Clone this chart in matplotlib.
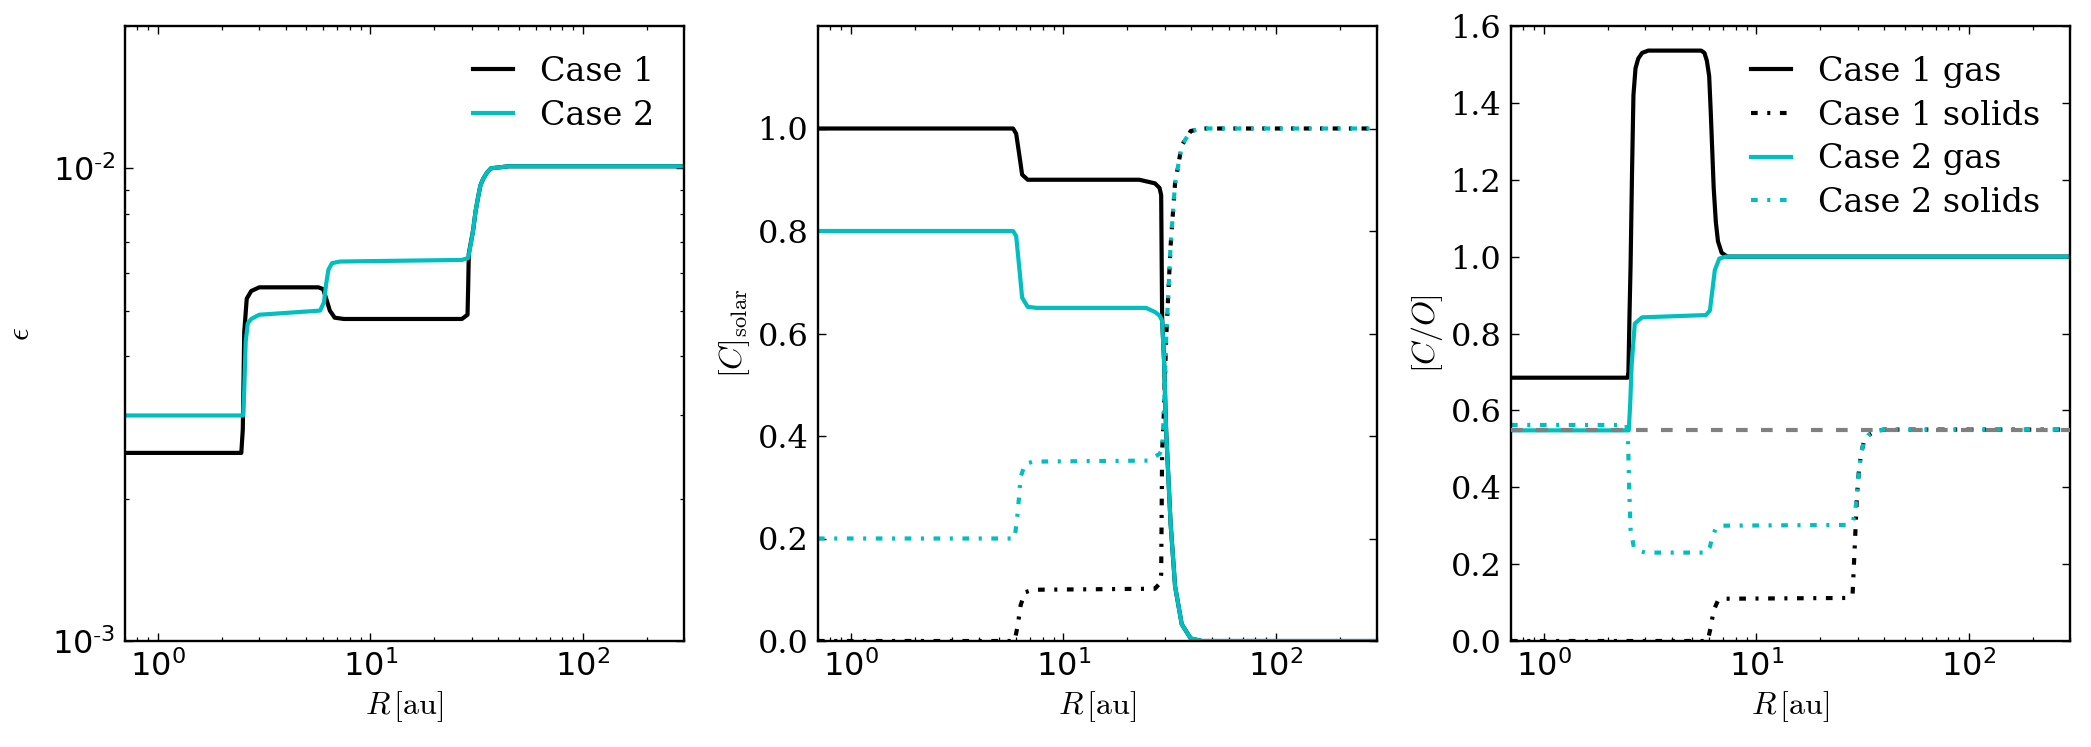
import numpy as np
import matplotlib
matplotlib.use("Agg")
import matplotlib.pyplot as plt
from matplotlib.ticker import FuncFormatter, LogLocator, FixedLocator, NullFormatter

plt.rcParams['font.family'] = 'serif'
plt.rcParams['font.serif'] = ['DejaVu Serif']
plt.rcParams['mathtext.fontset'] = 'cm'
plt.rcParams['axes.unicode_minus'] = False
plt.rcParams['lines.scale_dashes'] = False

# ---------------- data ----------------
xlim = (0.7, 300)

# Panel 1: epsilon
R_eps1 = [0.7, 2.47, 2.51, 2.55, 2.62, 2.75, 3.0, 5.7, 6.0, 6.2, 6.45, 6.8, 7.5, 27.0,
          28.7, 28.9, 29.1, 30.5, 31.3, 32.2, 33.0, 34.0, 35.5, 37.0, 45.0, 300]
eps1 = [0.0025, 0.0025, 0.0028, 0.0045, 0.0053, 0.0055, 0.0056, 0.0056, 0.00555, 0.0053,
        0.0050, 0.00483, 0.0048, 0.0048, 0.0049, 0.0056, 0.0066, 0.0074, 0.0081, 0.0087,
        0.0092, 0.0095, 0.0098, 0.0100, 0.0101, 0.0101]
R_eps2 = [0.7, 2.52, 2.55, 2.59, 2.65, 2.75, 3.0, 5.8, 6.05, 6.2, 6.35, 6.6, 7.2, 27.0,
          28.9, 29.7, 30.5, 31.3, 32.2, 33.0, 34.0, 35.5, 37.0, 45.0, 300]
eps2 = [0.0030, 0.0030, 0.0034, 0.0043, 0.0047, 0.0048, 0.0049, 0.0050, 0.0052, 0.0057,
        0.0061, 0.0063, 0.00635, 0.0064, 0.00646, 0.0069, 0.0074, 0.0081, 0.0087, 0.0092,
        0.0095, 0.0098, 0.0100, 0.0101, 0.0101]
eps_ylim = (1e-3, 2e-2)

# Panel 2: [C]_solar
R_cg1 = [0.7, 5.8, 6.0, 6.2, 6.4, 6.8, 7.5, 22.8, 27.0, 28.4, 28.9, 29.2, 29.8, 30.5,
         32.0, 33.6, 36.1, 39.8, 45.0, 300]
cg1 = [1.0, 1.0, 0.99, 0.95, 0.91, 0.90, 0.90, 0.90, 0.893, 0.884, 0.87, 0.63, 0.55,
       0.41, 0.23, 0.107, 0.033, 0.005, 0.0, 0.0]
R_cg2 = [0.7, 5.8, 6.0, 6.2, 6.4, 6.8, 7.5, 24.5, 27.0, 28.4, 29.2, 29.8, 30.5, 32.0,
         33.6, 36.1, 39.8, 45.0, 300]
cg2 = [0.8, 0.8, 0.79, 0.73, 0.67, 0.652, 0.65, 0.65, 0.642, 0.635, 0.625, 0.55, 0.41,
       0.23, 0.107, 0.033, 0.005, 0.0, 0.0]
R_cs1 = [0.7, 5.9, 6.1, 6.3, 6.6, 7.2, 27.0, 28.4, 28.9, 29.2, 29.8, 30.5, 32.0, 33.6,
         36.1, 39.8, 45.0, 300]
cs1 = [0.0, 0.0, 0.03, 0.07, 0.095, 0.1, 0.102, 0.112, 0.13, 0.37, 0.45, 0.59, 0.77,
       0.893, 0.967, 0.995, 1.0, 1.0]
R_cs2 = [0.7, 5.9, 6.1, 6.3, 6.6, 7.2, 25.0, 28.4, 29.2, 29.8, 30.5, 32.0, 33.6, 36.1,
         39.8, 45.0, 300]
cs2 = [0.2, 0.2, 0.25, 0.32, 0.345, 0.35, 0.352, 0.365, 0.375, 0.45, 0.59, 0.77, 0.893,
       0.967, 0.995, 1.0, 1.0]
c_ylim = (0.0, 1.2)
c_yticks = [0.0, 0.2, 0.4, 0.6, 0.8, 1.0]

# Panel 3: [C/O]
R_cog1 = [0.7, 2.48, 2.50, 2.53, 2.56, 2.60, 2.64, 2.70, 2.78, 2.9, 3.1, 5.5, 5.7, 5.85,
          6.0, 6.1, 6.2, 6.3, 6.45, 6.6, 6.87, 7.3, 300]
cog1 = [0.685, 0.685, 0.70, 0.85, 0.98, 1.22, 1.42, 1.49, 1.515, 1.53, 1.536, 1.536, 1.53,
        1.51, 1.47, 1.38, 1.28, 1.18, 1.09, 1.04, 1.01, 1.0, 1.0]
R_cog2 = [0.7, 2.51, 2.55, 2.59, 2.68, 2.9, 5.8, 6.05, 6.16, 6.38, 6.7, 7.2, 300]
cog2 = [0.548, 0.548, 0.62, 0.72, 0.826, 0.842, 0.848, 0.86, 0.896, 0.965, 0.995, 1.0, 1.0]
R_cos1 = [0.7, 5.9, 6.1, 6.3, 6.6, 7.2, 27.0, 28.4, 29.1, 29.8, 30.5, 31.2, 32.0, 33.6,
          36.1, 39.8, 300]
cos1 = [0.0, 0.0, 0.035, 0.08, 0.105, 0.11, 0.112, 0.12, 0.25, 0.38, 0.45, 0.49, 0.515,
        0.535, 0.545, 0.55, 0.55]
R_cos2 = [0.7, 2.45, 2.49, 2.52, 2.56, 2.65, 2.8, 3.0, 5.85, 6.05, 6.2, 6.45, 6.8, 27.0,
          28.4, 29.1, 29.8, 30.5, 31.2, 32.0, 33.6, 36.1, 39.8, 300]
cos2 = [0.562, 0.562, 0.52, 0.40, 0.29, 0.245, 0.235, 0.23, 0.23, 0.245, 0.27, 0.293,
        0.30, 0.302, 0.31, 0.33, 0.38, 0.45, 0.49, 0.515, 0.535, 0.545, 0.55, 0.55]
co_solar = 0.55
co_ylim = (0.0, 1.6)
co_yticks = [0.0, 0.2, 0.4, 0.6, 0.8, 1.0, 1.2, 1.4, 1.6]

labels_p1 = ['Case 1', 'Case 2']
labels_p3 = ['Case 1 gas', 'Case 1 solids', 'Case 2 gas', 'Case 2 solids']

# ---------------- style ----------------
BLACK = 'k'
CYAN = '#00bfbf'
GRAY = '#808080'
LW = 3.0
FS_TICK = 23
FS_LEG = 24
FS_LAB = 23
DASHDOT = (0, (4.8, 6.9, 2.2, 6.9))
DASHED = (0, (8.4, 9.6))

fig = plt.figure(figsize=(20.91, 7.47), dpi=100)
W, H = 2091.0, 747.0
lefts = [125, 818, 1511]
axw, axh, bottom = 559, 615, 106
axes = [fig.add_axes([l / W, bottom / H, axw / W, axh / H]) for l in lefts]


def log_fmt(v, pos):
    e = int(round(np.log10(v)))
    if e < 0:
        return r'$\mathdefault{10^{\text{-}%d}}$' % (-e)
    return r'$\mathdefault{10^{%d}}$' % e


def style(ax):
    ax.set_xscale('log')
    ax.set_xlim(*xlim)
    ax.xaxis.set_major_locator(LogLocator(base=10, numticks=10))
    ax.xaxis.set_minor_locator(LogLocator(base=10, subs=np.arange(2, 10), numticks=20))
    ax.xaxis.set_major_formatter(FuncFormatter(log_fmt))
    ax.xaxis.set_minor_formatter(NullFormatter())
    ax.tick_params(which='both', direction='in', top=True, right=True, labelsize=FS_TICK)
    ax.tick_params(which='major', length=6, width=1.0, pad=7)
    ax.tick_params(which='minor', length=3, width=0.9)
    for s in ax.spines.values():
        s.set_linewidth(1.7)
    ax.set_xlabel(r'$R\,[\mathrm{au}]$', fontsize=FS_LAB)
    plt.setp(ax.get_xticklabels(), family='DejaVu Sans')


# Panel 1
ax = axes[0]
ax.plot(R_eps1, eps1, color=BLACK, lw=LW, label=labels_p1[0])
ax.plot(R_eps2, eps2, color=CYAN, lw=LW, label=labels_p1[1])
ax.set_yscale('log')
ax.set_ylim(*eps_ylim)
ax.yaxis.set_major_locator(LogLocator(base=10, numticks=10))
ax.yaxis.set_minor_locator(LogLocator(base=10, subs=np.arange(2, 10), numticks=20))
ax.yaxis.set_major_formatter(FuncFormatter(log_fmt))
ax.yaxis.set_minor_formatter(NullFormatter())
style(ax)
plt.setp(ax.get_yticklabels(), family='DejaVu Sans')
ax.set_ylabel(r'$\epsilon$', fontsize=FS_LAB, labelpad=12)
ax.legend(loc='upper right', frameon=False, fontsize=FS_LEG, handlelength=1.2,
          handletextpad=0.8, labelspacing=0.35)

# Panel 2
ax = axes[1]
ax.plot(R_cg1, cg1, color=BLACK, lw=LW)
ax.plot(R_cs1, cs1, color=BLACK, lw=LW, linestyle=DASHDOT)
ax.plot(R_cg2, cg2, color=CYAN, lw=LW)
ax.plot(R_cs2, cs2, color=CYAN, lw=LW, linestyle=DASHDOT)
ax.set_ylim(*c_ylim)
ax.yaxis.set_major_locator(FixedLocator(c_yticks))
ax.yaxis.set_major_formatter(FuncFormatter(lambda v, p: '%.1f' % v))
style(ax)
ax.set_ylabel(r'$[C]_{\mathrm{solar}}$', fontsize=FS_LAB)

# Panel 3
ax = axes[2]
ax.plot(R_cog1, cog1, color=BLACK, lw=LW, label=labels_p3[0])
ax.plot(R_cos1, cos1, color=BLACK, lw=LW, linestyle=DASHDOT, label=labels_p3[1])
ax.plot(R_cog2, cog2, color=CYAN, lw=LW, label=labels_p3[2])
ax.plot(R_cos2, cos2, color=CYAN, lw=LW, linestyle=DASHDOT, label=labels_p3[3])
ax.axhline(co_solar, color=GRAY, lw=LW, linestyle=DASHED, zorder=5)
ax.set_ylim(*co_ylim)
ax.yaxis.set_major_locator(FixedLocator(co_yticks))
ax.yaxis.set_major_formatter(FuncFormatter(lambda v, p: '%.1f' % v))
style(ax)
ax.set_ylabel(r'$[C/O]$', fontsize=FS_LAB)
ax.legend(loc='upper right', frameon=False, fontsize=FS_LEG, handlelength=1.2,
          handletextpad=0.8, labelspacing=0.35)

fig.savefig('out.png', dpi=100)
